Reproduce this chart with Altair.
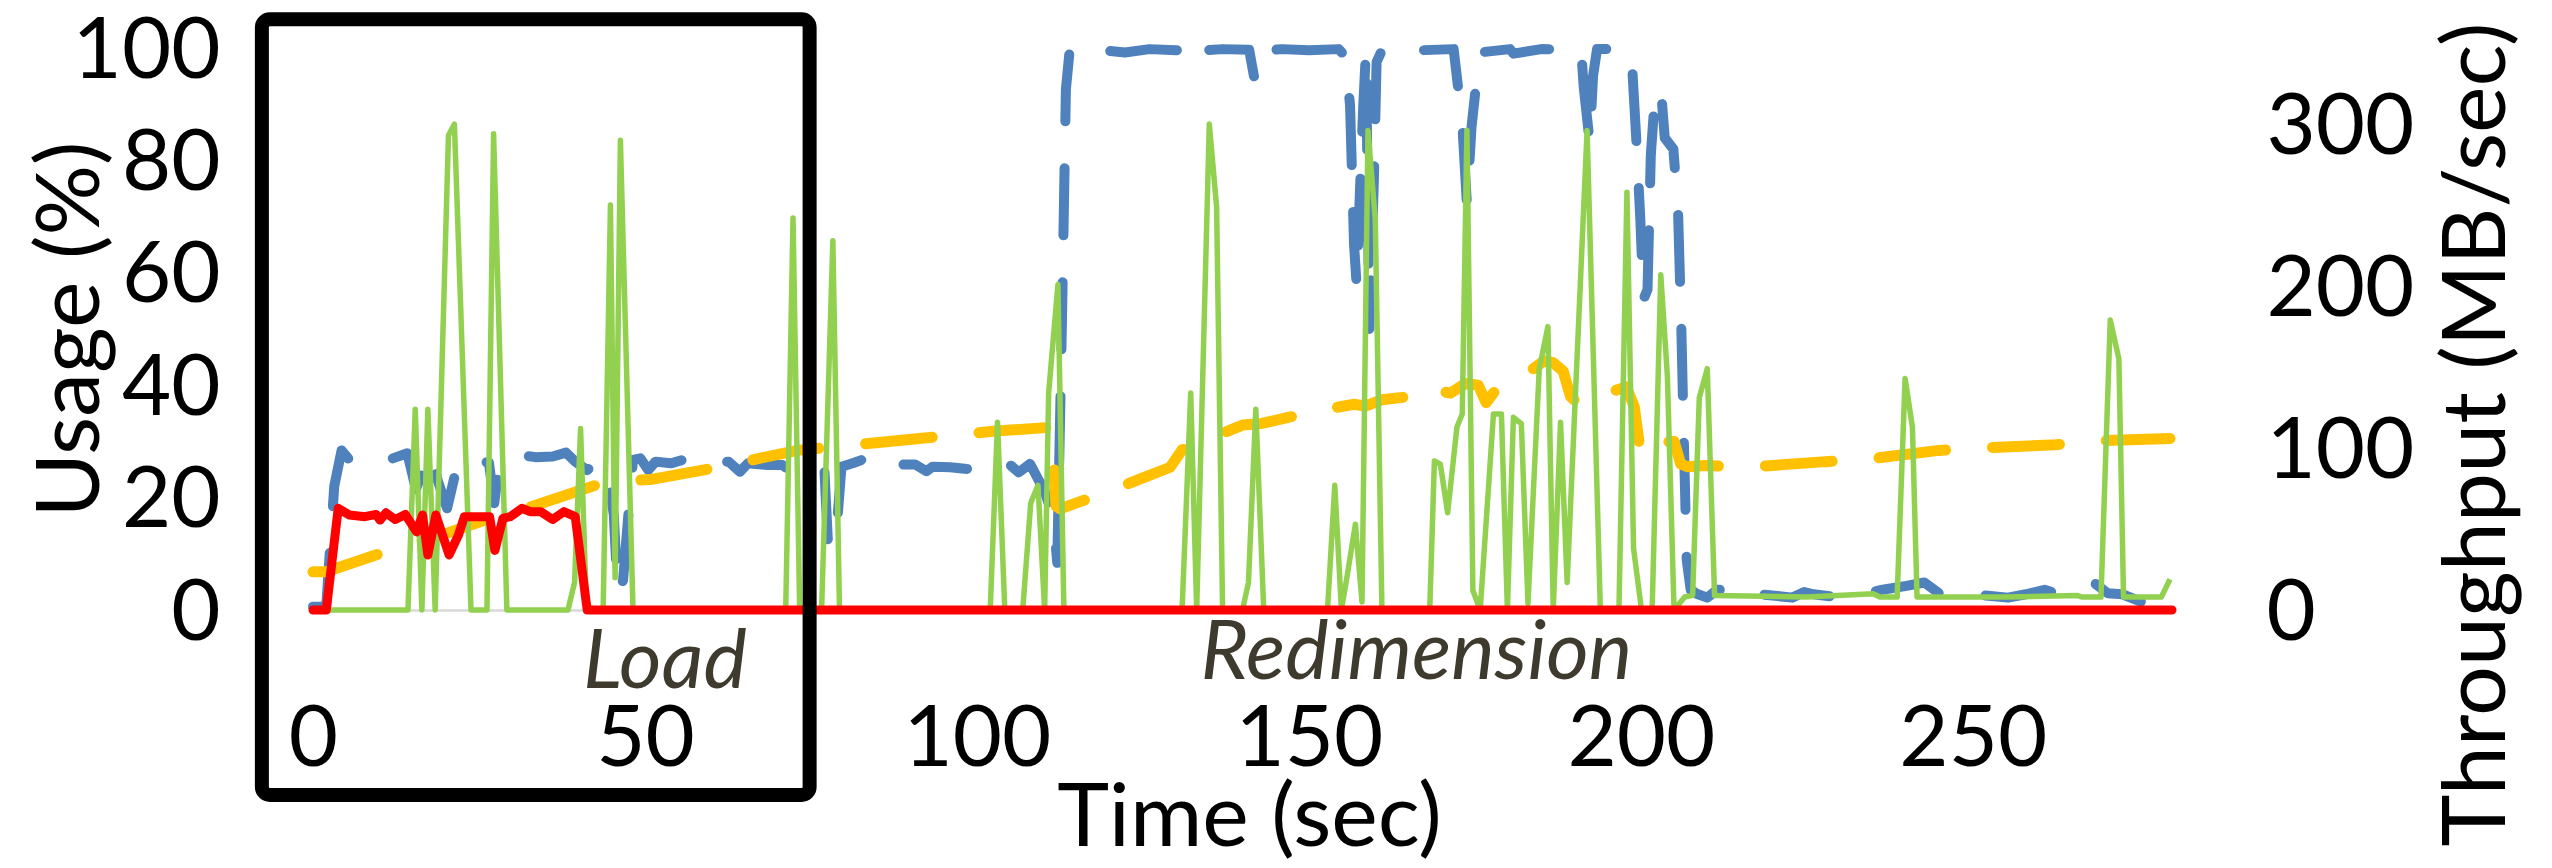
import altair as alt
import pandas as pd

# ---------------- data ----------------
x_ticks = [0, 50, 100, 150, 200, 250]
left_ticks = [0, 20, 40, 60, 80, 100]
right_ticks = [0, 100, 200, 300]

# CPU usage (%), blue dashed, left axis
blue = [(0, 0.6), (2.0, 0.6), (2.4, 8), (3.2, 22), (4.3, 28.4), (5.5, 26.7), (6.9, 27.6),
        (9.0, 27.2), (11.6, 26.8), (14.2, 27.9), (15.5, 21.5), (16.6, 25), (17.8, 28),
        (18.8, 23), (20.2, 18.1), (21.9, 26.7), (24.5, 26.7), (26.5, 26.2), (27.3, 19),
        (28.0, 25.5), (28.9, 26.7), (30.9, 27.6), (33.5, 27.2), (36.1, 27.3), (38.1, 28),
        (39.5, 26.4), (41.3, 24.9), (42.7, 26.4), (44.4, 24.6), (45.3, 17), (45.9, 3),
        (46.7, 5.3), (47.6, 18.4), (48.2, 26.7), (49.3, 27), (50.5, 24.9), (51.6, 26.4),
        (53.9, 26.1), (55.7, 26.7), (57.1, 25.8), (60, 26.2), (62.6, 26.4), (64.3, 24.6),
        (65.5, 26.1), (68.4, 25.8), (70.7, 25.8), (72.1, 24.6), (74.5, 25.8), (77.0, 25.5),
        (77.6, 11.2), (78.7, 11.8), (79.6, 25.5), (81.5, 26.2), (83.3, 27), (85.1, 25.1),
        (87.2, 25.5), (89, 25.9), (90.7, 25.9), (92.4, 24.7), (93.3, 25.5), (96, 25.4),
        (98.5, 25.1), (102, 26.7), (104.5, 26.3), (106.3, 24.5), (108, 26), (110.2, 21.1),
        (111.5, 16.4), (112.1, 8.4), (112.8, 51), (113.4, 92.6), (114, 100), (118, 99.7),
        (122.3, 99.2), (126, 99.8), (130, 99.6), (131.5, 99.7), (132.2, 97.6), (133, 99.5),
        (137, 99.8), (141, 99.7), (141.8, 94.5), (142.8, 99.5), (146, 99.8), (150, 99.6),
        (154.5, 99.8), (155.5, 98.5), (156.2, 89.8), (156.8, 65), (157.2, 57.7), (157.7, 75),
        (158.2, 90), (158.6, 99.6), (159.1, 50), (159.8, 77), (160.2, 97.5), (161, 99.6),
        (163, 99.8), (165.5, 98.9), (166.8, 99.6), (171.8, 99.8), (173.1, 86.6), (173.8, 72.3),
        (174.5, 86), (175.7, 99.2), (180.3, 99.8), (180.8, 99.0), (185, 99.8), (191, 99.7),
        (191.4, 93), (192.3, 83.2), (192.8, 95), (193.4, 99.8), (198, 99.8), (198.7, 96.5),
        (199.3, 84), (199.9, 70), (200.4, 55.3), (201, 57), (201.5, 81), (202, 89.4),
        (203, 93), (203.6, 84), (204.9, 82), (205.6, 71), (206.1, 50), (206.5, 29),
        (206.9, 9), (207.5, 3.6), (208.4, 2.9), (210, 2.2), (211.5, 3.6), (213.3, 3.6),
        (215.4, 2.2), (218, 2.8), (222.8, 2.2), (224.6, 3.2), (226, 2.8), (230, 2.2),
        (233, 2.8), (236.4, 3.6), (240, 4.3), (242.7, 4.9), (245, 2.9), (251.7, 2.6),
        (255.3, 2.2), (258, 2.8), (260.8, 3.6), (263, 2.8), (266.3, 3.9), (268.3, 4.8),
        (270.3, 3.0), (272.5, 2.8), (275.3, 1.5)]

# Memory usage (%), orange dashed, left axis
orange = [(0, 6.8), (2, 6.8), (11, 10.4), (20.5, 13.8), (27.4, 16.6), (33.2, 18.5),
          (44.1, 22.8), (50.8, 23.2), (62, 25.6), (67.7, 27.1), (73, 28.4), (79, 29.1),
          (85.2, 29.8), (96.5, 31.1), (102.4, 31.8), (111, 32.5), (111.5, 29), (111.9, 18.5),
          (112.5, 18), (119.6, 21), (125.2, 23.6), (129.1, 25.4), (130.9, 28.5), (134.4, 30.2),
          (140, 32.9), (142.9, 33.2), (150.8, 35.3), (156.7, 36.6), (158.5, 36.3), (161, 37.4),
          (164.6, 37.9), (166.4, 39.6), (171.3, 38.6), (173.6, 40.3), (175.5, 40), (176.7, 36.9),
          (178.3, 39.4), (180.3, 40), (185.4, 44.3), (186.8, 44), (188.3, 42.5), (189.4, 38),
          (190.8, 36.5), (192, 37.5), (197.8, 39.7), (199, 36.2), (200, 27.4), (203, 29.8),
          (205, 30), (206, 26), (207, 25.5), (209.7, 25.7), (216, 25.4), (227.8, 26.4),
          (233.2, 26.7), (244.9, 28.4), (250.4, 28.8), (262.5, 29.4), (268, 30.1), (279.7, 30.5)]

# Throughput (MB/sec), green solid, right axis
green = [(0, 0), (14.3, 0), (15.4, 124), (16.4, 0), (17.3, 124), (18.4, 0), (20.4, 293),
         (21.3, 300), (23.8, 0), (26.2, 0), (27.2, 294), (29.2, 0), (38.4, 0), (39.4, 17),
         (40.3, 112), (41.2, 0), (43.7, 0), (44.8, 250), (45.5, 20), (46.3, 290), (48.2, 0),
         (71.2, 0), (72.3, 242), (73.3, 0), (76.6, 0), (78.3, 228), (79.3, 0), (102.0, 0),
         (103.1, 116), (104.2, 0), (106.9, 0), (108.1, 66), (109.2, 77), (110.2, 0),
         (110.8, 134), (112.2, 201), (113.1, 0), (130.9, 0), (132.2, 134), (133.1, 0),
         (135.0, 300), (136.1, 249), (137.0, 0), (140.0, 0), (140.9, 17), (142.0, 124),
         (143.2, 0), (152.8, 0), (153.9, 77), (154.9, 0), (155.8, 22), (157.0, 53), (158.0, 5),
         (158.9, 296), (160.0, 241), (161.0, 0), (168.2, 0), (168.9, 92), (169.8, 90),
         (170.9, 60), (172.3, 113), (173.1, 121), (173.8, 296), (174.7, 12), (175.8, 0),
         (177.8, 121), (179.0, 121), (179.9, 0), (180.8, 119), (182.0, 115), (183.0, 4),
         (184.7, 149), (186.0, 175), (186.8, 0), (187.9, 116), (188.9, 17), (191.9, 296),
         (193.9, 0), (196.7, 0), (197.9, 258), (198.9, 38), (200.1, 0), (201.7, 0),
         (203.0, 207), (204.0, 144), (205.0, 0), (206.6, 8), (207.8, 9), (208.8, 131),
         (210.0, 149), (211.1, 9), (225.0, 8), (235.0, 10), (236.0, 8), (238.6, 8),
         (239.8, 143), (240.9, 113), (241.6, 8), (255.0, 8), (265.7, 9), (266.5, 8),
         (269.3, 8), (270.7, 179), (272.0, 155), (272.7, 8), (278.4, 8), (279.7, 19)]

# Load-phase series (%), red solid, left axis
red = [(0, 0), (2, 0), (3.8, 18.1), (5.5, 16.9), (7.8, 16.6), (9.5, 17), (10.1, 16),
       (11, 17.3), (12.4, 16.1), (13.9, 17), (15.6, 13.9), (16.5, 16.9), (17.3, 9.8),
       (18.5, 16.9), (20.5, 9.8), (21.9, 13.3), (22.8, 16.6), (26.6, 16.6), (27.4, 10.6),
       (28.6, 16.3), (29.7, 16.6), (31.5, 18.1), (32.7, 17.5), (34.3, 17.5), (36.1, 16.1),
       (37.8, 17.5), (39.5, 16.6), (41.3, 0), (280, 0)]

# phase annotations (time, usage-axis position)
phase_labels = ["Load", "Redimension"]
phase_t = [53.0, 166.2]
phase_v = [-13.9, -12.3]

# highlight box around the load phase (time / usage-axis extents)
box_t = [-7.7, 74.8]
box_v = [105.1, -32.9]

# ---------------- chart ----------------
FONT = "Lato"
LABEL_SIZE = 85
X_DOMAIN = [0, 280]
LEFT_DOMAIN = [0, 100]
RIGHT_DOMAIN = [0, 347]

xscale = alt.Scale(domain=X_DOMAIN, nice=False, zero=False)
lscale = alt.Scale(domain=LEFT_DOMAIN, nice=False, zero=False)
rscale = alt.Scale(domain=RIGHT_DOMAIN, nice=False, zero=False)

x_axis = alt.Axis(values=x_ticks, title="Time (sec)", grid=False, ticks=False, tickSize=0,
                  domain=True, domainColor="#D9D9D9", domainWidth=2.5,
                  labelFont=FONT, labelFontSize=LABEL_SIZE, labelColor="black", labelFlush=False,
                  labelOverlap=False, labelPadding=155, labelBaseline="alphabetic",
                  titleFont=FONT, titleFontSize=88, titleFontWeight="normal", titleColor="black",
                  titleX=936, titleY=235, titleBaseline="alphabetic", titleAlign="center")

left_axis = alt.Axis(values=left_ticks, orient="left", title="Usage (%)", grid=False,
                     ticks=False, tickSize=0, domain=False, labelFont=FONT,
                     labelFontSize=LABEL_SIZE, labelColor="black", labelPadding=93,
                     labelBaseline="alphabetic", labelOffset=29, labelOverlap=False,
                     labelFlush=False, titleFont=FONT, titleFontSize=88,
                     titleFontWeight="normal", titleColor="black", titleAngle=270,
                     titleX=-215, titleY=281, titleBaseline="alphabetic", titleAlign="center")

right_axis = alt.Axis(values=right_ticks, orient="right", title="Throughput (MB/sec)",
                      grid=False, ticks=False, tickSize=0, domain=False, labelFont=FONT,
                      labelFontSize=LABEL_SIZE, labelColor="black", labelPadding=94,
                      labelBaseline="alphabetic", labelOffset=29, labelOverlap=False,
                      labelFlush=False, titleFont=FONT, titleFontSize=88,
                      titleFontWeight="normal", titleColor="black", titleAngle=270,
                      titleX=332, titleY=386, titleBaseline="alphabetic", titleAlign="center")


def frame(pairs):
    return pd.DataFrame({"t": [p[0] for p in pairs], "v": [p[1] for p in pairs]})


X = alt.X("t:Q", scale=xscale, axis=x_axis)

blue_layer = alt.Chart(frame(blue)).mark_line(
    color="#4F81BD", strokeWidth=10, strokeDash=[67, 47], strokeCap="round", strokeJoin="round"
).encode(x=X, y=alt.Y("v:Q", scale=lscale, axis=left_axis))

orange_layer = alt.Chart(frame(orange)).mark_line(
    color="#FFC000", strokeWidth=11, strokeDash=[67, 47], strokeCap="round", strokeJoin="round"
).encode(x=X, y=alt.Y("v:Q", scale=lscale, axis=None))

green_layer = alt.Chart(frame(green)).mark_line(
    color="#92D050", strokeWidth=5.5, strokeJoin="round"
).encode(x=X, y=alt.Y("v:Q", scale=rscale, axis=right_axis))

red_layer = alt.Chart(frame(red)).mark_line(
    color="#FF0000", strokeWidth=9, strokeJoin="round", strokeCap="round"
).encode(x=X, y=alt.Y("v:Q", scale=lscale, axis=None))

box_df = pd.DataFrame({"t1": [box_t[0]], "t2": [box_t[1]], "v1": [box_v[0]], "v2": [box_v[1]]})
box_layer = alt.Chart(box_df).mark_rect(
    fill=None, fillOpacity=0, stroke="black", strokeWidth=14, cornerRadius=8
).encode(
    x=alt.X("t1:Q", scale=xscale, axis=x_axis), x2="t2:Q",
    y=alt.Y("v1:Q", scale=lscale, axis=None), y2="v2:Q"
)

text_df = pd.DataFrame({"label": phase_labels, "t": phase_t, "v": phase_v})
text_layer = alt.Chart(text_df).mark_text(
    font=FONT, fontSize=82, fontStyle="italic", color="#3F3A2E", align="center",
    baseline="alphabetic"
).encode(x=X, y=alt.Y("v:Q", scale=lscale, axis=None), text="label:N")

chart = alt.layer(
    blue_layer, orange_layer, green_layer, red_layer, box_layer, text_layer
).resolve_scale(y="independent").properties(
    width=1859, height=562,
    padding={"left": 313, "top": 48, "right": 380, "bottom": 258},
    autosize=alt.AutoSizeParams(type="none"),
    background="white"
).configure_view(stroke=None)

chart.save("out.html", embed_options={"renderer": "svg", "actions": False})
